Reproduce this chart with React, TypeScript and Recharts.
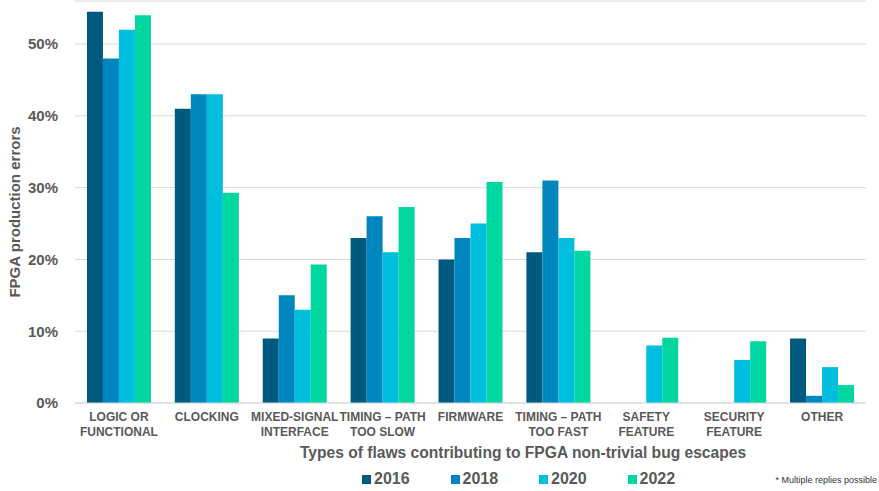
import { BarChart, Bar, XAxis, YAxis, CartesianGrid, Legend } from "recharts";

const categories = [
  "LOGIC OR|FUNCTIONAL",
  "CLOCKING",
  "MIXED-SIGNAL|INTERFACE",
  "TIMING – PATH|TOO SLOW",
  "FIRMWARE",
  "TIMING – PATH|TOO FAST",
  "SAFETY|FEATURE",
  "SECURITY|FEATURE",
  "OTHER",
];

const y2016 = [54.5, 41, 9, 23, 20, 21, 0, 0, 9];
const y2018 = [48, 43, 15, 26, 23, 31, 0, 0, 1];
const y2020 = [52, 43, 13, 21, 25, 23, 8, 6, 5];
const y2022 = [54, 29.3, 19.3, 27.3, 30.8, 21.2, 9.1, 8.6, 2.5];

const yTicks = [0, 10, 20, 30, 40, 50];

const series = [
  { key: "2016", color: "#005a7e" },
  { key: "2018", color: "#0086bf" },
  { key: "2020", color: "#00bedd" },
  { key: "2022", color: "#00d6a0" },
];

const data = categories.map((name, i) => ({
  name,
  "2016": y2016[i],
  "2018": y2018[i],
  "2020": y2020[i],
  "2022": y2022[i],
}));

const FONT = "'Liberation Sans', Arial, sans-serif";
const GRAY = "#595959";

const CategoryTick = ({ x, y, payload }: any) => {
  const lines = String(payload.value).split("|");
  return (
    <text
      x={x}
      y={y}
      textAnchor="middle"
      fill={GRAY}
      fontFamily={FONT}
      fontSize={12}
      fontWeight="bold"
    >
      {lines.map((l, i) => (
        <tspan key={i} x={x} dy={i === 0 ? 10 : 15}>
          {l}
        </tspan>
      ))}
    </text>
  );
};

const YTitle = () => (
  <text
    x={20}
    y={212}
    transform="rotate(-90, 20, 212)"
    textAnchor="middle"
    fill={GRAY}
    fontFamily={FONT}
    fontSize={15}
    fontWeight="bold"
  >
    FPGA production errors
  </text>
);

const XTitle = () => (
  <text
    x={523}
    y={458}
    textAnchor="middle"
    fill={GRAY}
    fontFamily={FONT}
    fontSize={15.6}
    fontWeight="bold"
  >
    Types of flaws contributing to FPGA non-trivial bug escapes
  </text>
);

const LegendBox = () => (
  <div style={{ position: "relative", width: 879, height: 24, fontFamily: FONT }}>
    <div style={{ position: "absolute", left: 362, top: 3, display: "flex" }}>
      {series.map((s) => (
        <div key={s.key} style={{ width: 88.5, display: "flex", alignItems: "center" }}>
          <span
            style={{ width: 9, height: 9, background: s.color, display: "inline-block", marginRight: 3 }}
          />
          <span style={{ color: GRAY, fontSize: 16, fontWeight: "bold" }}>{s.key}</span>
        </div>
      ))}
    </div>
    <div
      style={{
        position: "absolute",
        right: 2,
        top: 8,
        fontSize: 9,
        color: "#333",
      }}
    >
      * Multiple replies possible
    </div>
  </div>
);

export default function App() {
  return (
    <div style={{ position: "absolute", left: 0, top: 0, background: "#fff" }}>
      <BarChart
        width={879}
        height={491}
        data={data}
        margin={{ top: 1, right: 13, bottom: 0, left: 0 }}
        barCategoryGap="13.6%"
        barGap={0}
      >
        <CartesianGrid vertical={false} stroke="#d9d9d9" />
        <XAxis
          dataKey="name"
          height={64}
          tick={<CategoryTick />}
          tickLine={false}
          axisLine={{ stroke: "#d9d9d9" }}
          interval={0}
          label={<XTitle />}
        />
        <YAxis
          width={75}
          domain={[0, 56]}
          ticks={yTicks}
          tickFormatter={(v: number) => `${v}%`}
          axisLine={false}
          tickLine={false}
          tickSize={0}
          tickMargin={17}
          tick={{ fill: GRAY, fontFamily: FONT, fontSize: 15, fontWeight: "bold" }}
          label={<YTitle />}
        />
        <Legend verticalAlign="bottom" height={24} content={<LegendBox />} />
        {series.map((s) => (
          <Bar key={s.key} dataKey={s.key} fill={s.color} isAnimationActive={false} />
        ))}
      </BarChart>
    </div>
  );
}
